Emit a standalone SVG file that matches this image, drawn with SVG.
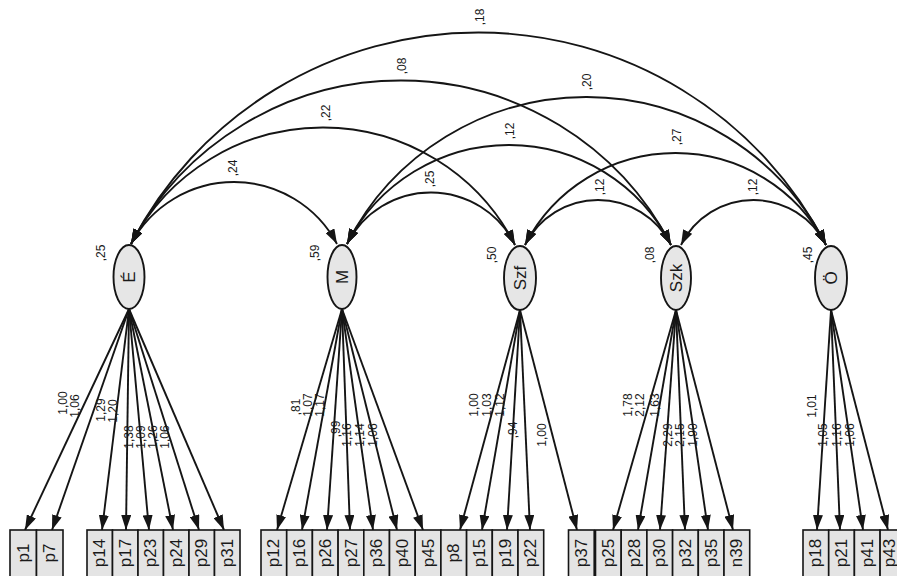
<svg xmlns="http://www.w3.org/2000/svg" width="897" height="576" viewBox="0 0 897 576">
<defs>
<marker id="ah" markerUnits="userSpaceOnUse" markerWidth="15" markerHeight="10" refX="15" refY="5" orient="auto-start-reverse" viewBox="0 0 15 10">
<path d="M0,0 L15,5 L0,10 z" fill="#151515"/>
</marker>
</defs>
<style>
.c{fill:none;stroke:#151515;stroke-width:1.9;marker-start:url(#ah);marker-end:url(#ah)}
.l{fill:none;stroke:#151515;stroke-width:1.9;marker-end:url(#ah)}
.t{font-family:"Liberation Sans",Arial,sans-serif;font-size:12px;fill:#1a1a1a;text-anchor:middle;dominant-baseline:central}
.lat{fill:#e6e6e6;stroke:#151515;stroke-width:1.9}
.box{fill:#e4e4e4;stroke:#151515;stroke-width:1.6}
.nt{font-family:"Liberation Sans",Arial,sans-serif;font-size:17px;fill:#1a1a1a;text-anchor:middle;dominant-baseline:central}
.bt{font-family:"Liberation Sans",Arial,sans-serif;font-size:17px;fill:#1a1a1a;text-anchor:middle;dominant-baseline:central}
</style>
<rect width="897" height="576" fill="#fff"/>
<g id="connectors">
<path class="c" d="M131,244 A116.6,116.6 0 0 1 337,244"/>
<path class="c" d="M131,244 A216,216 0 0 1 515,245"/>
<path class="c" d="M131,244 A304.3,304.3 0 0 1 671,245"/>
<path class="c" d="M131,244 A390.8,390.8 0 0 1 826,245"/>
<path class="c" d="M347,244 A93.8,93.8 0 0 1 515,245"/>
<path class="c" d="M347,244 A181.6,181.6 0 0 1 671,245"/>
<path class="c" d="M347,244 A268.2,268.2 0 0 1 826,245"/>
<path class="c" d="M525,245 A81.7,81.7 0 0 1 671,245"/>
<path class="c" d="M525,245 A169.1,169.1 0 0 1 826,245"/>
<path class="c" d="M681,245 A80.9,80.9 0 0 1 826,245"/>
<g class="t">
<text transform="translate(233,168) rotate(-90)">,24</text>
<text transform="translate(326,113) rotate(-90)">,22</text>
<text transform="translate(402,66) rotate(-90)">,08</text>
<text transform="translate(480,17) rotate(-90)">,18</text>
<text transform="translate(430,179) rotate(-90)">,25</text>
<text transform="translate(510,131) rotate(-90)">,12</text>
<text transform="translate(587,82) rotate(-90)">,20</text>
<text transform="translate(600,187) rotate(-90)">,12</text>
<text transform="translate(677,137) rotate(-90)">,27</text>
<text transform="translate(753,187) rotate(-90)">,12</text>
</g>
<path class="l" d="M129,309 L25,530"/>
<path class="l" d="M129,309 L52,530"/>
<path class="l" d="M129,309 L102,530"/>
<path class="l" d="M129,309 L126,530"/>
<path class="l" d="M129,309 L149,530"/>
<path class="l" d="M129,309 L173,530"/>
<path class="l" d="M129,309 L199,530"/>
<path class="l" d="M129,309 L224,530"/>
<path class="l" d="M342,309 L277,530"/>
<path class="l" d="M342,309 L302,530"/>
<path class="l" d="M342,309 L327,530"/>
<path class="l" d="M342,309 L350,530"/>
<path class="l" d="M342,309 L373,530"/>
<path class="l" d="M342,309 L397,530"/>
<path class="l" d="M342,309 L423,530"/>
<path class="l" d="M520,310 L460,530"/>
<path class="l" d="M520,310 L482,530"/>
<path class="l" d="M520,310 L507,530"/>
<path class="l" d="M520,310 L530,530"/>
<path class="l" d="M520,310 L577,530"/>
<path class="l" d="M676,310 L613,530"/>
<path class="l" d="M676,310 L638,530"/>
<path class="l" d="M676,310 L660,530"/>
<path class="l" d="M676,310 L685,530"/>
<path class="l" d="M676,310 L708,530"/>
<path class="l" d="M676,310 L733,530"/>
<path class="l" d="M831,310 L817,530"/>
<path class="l" d="M831,310 L840,530"/>
<path class="l" d="M831,310 L863,530"/>
<path class="l" d="M831,310 L888,530"/>
<g class="t">
<text transform="translate(63,403) rotate(-90)">1,00</text>
<text transform="translate(75,406) rotate(-90)">1,06</text>
<text transform="translate(101,410) rotate(-90)">1,29</text>
<text transform="translate(113,411) rotate(-90)">1,20</text>
<text transform="translate(129,437) rotate(-90)">1,38</text>
<text transform="translate(141,437) rotate(-90)">1,09</text>
<text transform="translate(153,437) rotate(-90)">1,26</text>
<text transform="translate(165,437) rotate(-90)">1,06</text>
<text transform="translate(296,407) rotate(-90)">,81</text>
<text transform="translate(308,405) rotate(-90)">1,07</text>
<text transform="translate(320,405) rotate(-90)">1,17</text>
<text transform="translate(336,429) rotate(-90)">,99</text>
<text transform="translate(347,435) rotate(-90)">1,16</text>
<text transform="translate(360,435) rotate(-90)">1,14</text>
<text transform="translate(373,435) rotate(-90)">1,06</text>
<text transform="translate(474,405) rotate(-90)">1,00</text>
<text transform="translate(487,405) rotate(-90)">1,03</text>
<text transform="translate(500,405) rotate(-90)">1,12</text>
<text transform="translate(513,430) rotate(-90)">,94</text>
<text transform="translate(542,435) rotate(-90)">1,00</text>
<text transform="translate(628,405) rotate(-90)">1,78</text>
<text transform="translate(640,405) rotate(-90)">2,12</text>
<text transform="translate(655,405) rotate(-90)">1,63</text>
<text transform="translate(668,435) rotate(-90)">2,29</text>
<text transform="translate(680,435) rotate(-90)">2,15</text>
<text transform="translate(693,435) rotate(-90)">1,90</text>
<text transform="translate(812,406) rotate(-90)">1,01</text>
<text transform="translate(823,435) rotate(-90)">1,05</text>
<text transform="translate(837,435) rotate(-90)">1,16</text>
<text transform="translate(850,435) rotate(-90)">1,06</text>
</g>
</g>
<g id="E"><ellipse class="lat" cx="129" cy="277" rx="15.5" ry="32"/><text class="nt" transform="translate(129,277) rotate(-90)">É</text><text class="t" transform="translate(101,253) rotate(-90)">,25</text></g>
<g id="M"><ellipse class="lat" cx="342" cy="277" rx="14.5" ry="32"/><text class="nt" transform="translate(342,277) rotate(-90)">M</text><text class="t" transform="translate(315,253) rotate(-90)">,59</text></g>
<g id="Szf"><ellipse class="lat" cx="520" cy="278" rx="16" ry="32"/><text class="nt" transform="translate(520,278) rotate(-90)">Szf</text><text class="t" transform="translate(492,255) rotate(-90)">,50</text></g>
<g id="Szk"><ellipse class="lat" cx="676" cy="278" rx="15" ry="32"/><text class="nt" transform="translate(676,278) rotate(-90)">Szk</text><text class="t" transform="translate(650,255) rotate(-90)">,08</text></g>
<g id="O"><ellipse class="lat" cx="831" cy="278" rx="16" ry="32"/><text class="nt" transform="translate(831,278) rotate(-90)">Ö</text><text class="t" transform="translate(808,255) rotate(-90)">,45</text></g>
<g id="p1"><rect class="box" x="10" y="530" width="26.5" height="60"/><text class="bt" transform="translate(23.2,553) rotate(-90)">p1</text></g>
<g id="p7"><rect class="box" x="36.5" y="530" width="26.5" height="60"/><text class="bt" transform="translate(49.7,553) rotate(-90)">p7</text></g>
<g id="p14"><rect class="box" x="87" y="530" width="25.5" height="60"/><text class="bt" transform="translate(99.8,553) rotate(-90)">p14</text></g>
<g id="p17"><rect class="box" x="112.5" y="530" width="25.5" height="60"/><text class="bt" transform="translate(125.3,553) rotate(-90)">p17</text></g>
<g id="p23"><rect class="box" x="138" y="530" width="25.5" height="60"/><text class="bt" transform="translate(150.8,553) rotate(-90)">p23</text></g>
<g id="p24"><rect class="box" x="163.5" y="530" width="25.5" height="60"/><text class="bt" transform="translate(176.3,553) rotate(-90)">p24</text></g>
<g id="p29"><rect class="box" x="189" y="530" width="25.5" height="60"/><text class="bt" transform="translate(201.8,553) rotate(-90)">p29</text></g>
<g id="p31"><rect class="box" x="214.5" y="530" width="25.5" height="60"/><text class="bt" transform="translate(227.3,553) rotate(-90)">p31</text></g>
<g id="p12"><rect class="box" x="261" y="530" width="25.7" height="60"/><text class="bt" transform="translate(273.9,553) rotate(-90)">p12</text></g>
<g id="p16"><rect class="box" x="286.7" y="530" width="25.7" height="60"/><text class="bt" transform="translate(299.6,553) rotate(-90)">p16</text></g>
<g id="p26"><rect class="box" x="312.4" y="530" width="25.7" height="60"/><text class="bt" transform="translate(325.3,553) rotate(-90)">p26</text></g>
<g id="p27"><rect class="box" x="338.1" y="530" width="25.7" height="60"/><text class="bt" transform="translate(351,553) rotate(-90)">p27</text></g>
<g id="p36"><rect class="box" x="363.8" y="530" width="25.7" height="60"/><text class="bt" transform="translate(376.7,553) rotate(-90)">p36</text></g>
<g id="p40"><rect class="box" x="389.5" y="530" width="25.7" height="60"/><text class="bt" transform="translate(402.4,553) rotate(-90)">p40</text></g>
<g id="p45"><rect class="box" x="415.2" y="530" width="25.7" height="60"/><text class="bt" transform="translate(428.1,553) rotate(-90)">p45</text></g>
<g id="p8"><rect class="box" x="440.9" y="530" width="25.7" height="60"/><text class="bt" transform="translate(453.8,553) rotate(-90)">p8</text></g>
<g id="p15"><rect class="box" x="466.6" y="530" width="25.7" height="60"/><text class="bt" transform="translate(479.5,553) rotate(-90)">p15</text></g>
<g id="p19"><rect class="box" x="492.3" y="530" width="25.7" height="60"/><text class="bt" transform="translate(505.2,553) rotate(-90)">p19</text></g>
<g id="p22"><rect class="box" x="518" y="530" width="25.7" height="60"/><text class="bt" transform="translate(530.9,553) rotate(-90)">p22</text></g>
<g id="p37"><rect class="box" x="568.5" y="530" width="25.7" height="60"/><text class="bt" transform="translate(581.4,553) rotate(-90)">p37</text></g>
<g id="p25"><rect class="box" x="595.5" y="530" width="25.7" height="60"/><text class="bt" transform="translate(608.4,553) rotate(-90)">p25</text></g>
<g id="p28"><rect class="box" x="621.2" y="530" width="25.7" height="60"/><text class="bt" transform="translate(634.1,553) rotate(-90)">p28</text></g>
<g id="p30"><rect class="box" x="646.9" y="530" width="25.7" height="60"/><text class="bt" transform="translate(659.8,553) rotate(-90)">p30</text></g>
<g id="p32"><rect class="box" x="672.6" y="530" width="25.7" height="60"/><text class="bt" transform="translate(685.5,553) rotate(-90)">p32</text></g>
<g id="p35"><rect class="box" x="698.3" y="530" width="25.7" height="60"/><text class="bt" transform="translate(711.2,553) rotate(-90)">p35</text></g>
<g id="n39"><rect class="box" x="724" y="530" width="25.7" height="60"/><text class="bt" transform="translate(736.9,553) rotate(-90)">n39</text></g>
<g id="p18"><rect class="box" x="803" y="530" width="25.7" height="60"/><text class="bt" transform="translate(815.9,553) rotate(-90)">p18</text></g>
<g id="p21"><rect class="box" x="828.7" y="530" width="25.7" height="60"/><text class="bt" transform="translate(841.6,553) rotate(-90)">p21</text></g>
<g id="p41"><rect class="box" x="854.4" y="530" width="25.7" height="60"/><text class="bt" transform="translate(867.3,553) rotate(-90)">p41</text></g>
<g id="p43"><rect class="box" x="880.1" y="530" width="25.7" height="60"/><text class="bt" transform="translate(889,553) rotate(-90)">p43</text></g>
</svg>
